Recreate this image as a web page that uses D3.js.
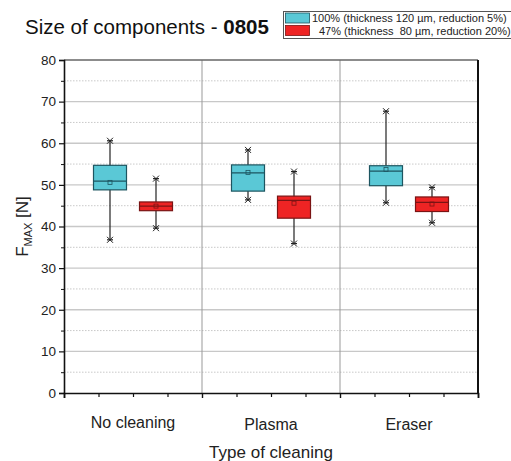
<!DOCTYPE html>
<html>
<head>
<meta charset="utf-8">
<script src="https://cdn.jsdelivr.net/npm/d3@7"></script>
<style>
  body { margin: 0; background: #fff; }
  svg { font-family: "Liberation Sans", Arial, sans-serif; }
</style>
</head>
<body>
<div id="chart"></div>
<script>
// categories and series
const categories = ['No cleaning', 'Plasma', 'Eraser']
const seriesNames = ['100% (thickness 120 µm, reduction 5%)', '47% (thickness\u00a0\u00a080 µm, reduction 20%)']
const seriesColors = ['#5ac8d6', '#ee2424']
const seriesStrokes = ['#1d5560', '#7a1414']

// box statistics per category, one array per series
const minA = [36.8, 46.4, 45.7]
const q1A = [48.8, 48.5, 49.8]
const medA = [50.9, 52.9, 53.3]
const q3A = [54.7, 54.8, 54.6]
const maxA = [60.6, 58.4, 67.7]
const meanA = [50.6, 53.0, 53.7]

const minB = [39.6, 35.9, 40.9]
const q1B = [43.8, 42.0, 43.6]
const medB = [44.9, 46.3, 45.8]
const q3B = [45.9, 47.3, 47.1]
const maxB = [51.5, 53.2, 49.4]
const meanB = [44.9, 45.6, 45.4]

const yTicks = [0, 10, 20, 30, 40, 50, 60, 70, 80]
const yMinor = [5, 15, 25, 35, 45, 55, 65, 75]

const width = 511, height = 461
const margin = { top: 60, right: 33, bottom: 68, left: 64 }

const stats = [
    { min: minA, q1: q1A, med: medA, q3: q3A, max: maxA, mean: meanA },
    { min: minB, q1: q1B, med: medB, q3: q3B, max: maxB, mean: meanB },
]

const boxes = []
stats.forEach((s, si) => {
    categories.forEach((c, ci) => {
        boxes.push({
            cat: c, series: si,
            min: s.min[ci], q1: s.q1[ci], med: s.med[ci], q3: s.q3[ci], max: s.max[ci], mean: s.mean[ci],
        })
    })
})

const svg = d3.select('#chart').append('svg')
    .attr('width', width)
    .attr('height', height)

const x = d3.scaleBand()
    .domain(categories)
    .range([margin.left, width - margin.right])
    .padding(0)

const xs = d3.scalePoint()
    .domain([0, 1])
    .range([0, x.bandwidth()])
    .padding(1)

const xl = d3.scaleLinear()
    .domain([0, categories.length])
    .range([margin.left, width - margin.right])

const y = d3.scaleLinear()
    .domain([0, 80])
    .range([height - margin.bottom, margin.top])

const plotL = margin.left, plotR = width - margin.right
const plotT = margin.top, plotB = height - margin.bottom

// grid
svg.append('g').selectAll('line.minor')
    .data(yMinor).enter().append('line')
    .attr('x1', plotL).attr('x2', plotR)
    .attr('y1', d => y(d)).attr('y2', d => y(d))
    .attr('stroke', '#bbb').attr('stroke-width', 0.8)
    .attr('stroke-dasharray', '1.5,1.5')

svg.append('g').selectAll('line.major')
    .data(yTicks.slice(1, -1)).enter().append('line')
    .attr('x1', plotL).attr('x2', plotR)
    .attr('y1', d => y(d)).attr('y2', d => y(d))
    .attr('stroke', '#c8c8c8').attr('stroke-width', 1.3)

// group separators
svg.append('g').selectAll('line')
    .data(d3.range(1, categories.length)).enter().append('line')
    .attr('x1', d => xl(d)).attr('x2', d => xl(d))
    .attr('y1', plotT).attr('y2', plotB)
    .attr('stroke', '#999').attr('stroke-width', 1)

// frame top and right
svg.append('line')
    .attr('x1', plotL).attr('x2', plotR).attr('y1', plotT).attr('y2', plotT)
    .attr('stroke', '#666').attr('stroke-width', 1.5)
svg.append('line')
    .attr('x1', plotR).attr('x2', plotR).attr('y1', plotT).attr('y2', plotB)
    .attr('stroke', '#111').attr('stroke-width', 2)

// boxes
const bw = 33
const g = svg.append('g').selectAll('g.box')
    .data(boxes).enter().append('g')
    .attr('transform', d => `translate(${x(d.cat) + xs(d.series)},0)`)

g.append('line')
    .attr('x1', 0).attr('x2', 0)
    .attr('y1', d => y(d.max)).attr('y2', d => y(d.min))
    .attr('stroke', '#222').attr('stroke-width', 1.2)

g.append('rect')
    .attr('x', -bw / 2).attr('width', bw)
    .attr('y', d => y(d.q3)).attr('height', d => y(d.q1) - y(d.q3))
    .attr('fill', d => seriesColors[d.series])
    .attr('stroke', d => seriesStrokes[d.series]).attr('stroke-width', 1.2)

g.append('line')
    .attr('x1', -bw / 2).attr('x2', bw / 2)
    .attr('y1', d => y(d.med)).attr('y2', d => y(d.med))
    .attr('stroke', d => seriesStrokes[d.series]).attr('stroke-width', 1.2)

g.append('rect')
    .attr('x', -2).attr('width', 4)
    .attr('y', d => y(d.mean) - 2).attr('height', 4)
    .attr('fill', 'none')
    .attr('stroke', d => seriesStrokes[d.series]).attr('stroke-width', 0.8)

// whisker caps and x markers
;['min', 'max'].forEach(k => {
    g.append('line')
        .attr('x1', -3).attr('x2', 3)
        .attr('y1', d => y(d[k])).attr('y2', d => y(d[k]))
        .attr('stroke', '#222').attr('stroke-width', 1.2)
    g.append('path')
        .attr('d', d => {
            const yy = y(d[k])
            return `M-3,${yy - 3}L3,${yy + 3}M-3,${yy + 3}L3,${yy - 3}`
        })
        .attr('stroke', '#222').attr('stroke-width', 1)
})

// y axis
const yAxis = svg.append('g')
    .attr('transform', `translate(${plotL},0)`)
    .call(d3.axisLeft(y).tickValues(yTicks).tickSize(5).tickPadding(3))
yAxis.select('.domain').attr('stroke', '#111').attr('stroke-width', 1.6)
yAxis.selectAll('.tick line').attr('stroke', '#111').attr('stroke-width', 1.2)
yAxis.selectAll('.tick text').attr('font-size', 13.5).attr('fill', '#222')
    .attr('font-family', '"Liberation Sans", Arial, sans-serif')

const yAxisMinor = svg.append('g')
    .attr('transform', `translate(${plotL},0)`)
    .call(d3.axisLeft(y).tickValues(yMinor).tickSize(3).tickFormat(''))
yAxisMinor.select('.domain').remove()
yAxisMinor.selectAll('.tick line').attr('stroke', '#111').attr('stroke-width', 1)

// x axis
const xAxis = svg.append('g')
    .attr('transform', `translate(0,${plotB})`)
    .call(d3.axisBottom(xl).tickValues(d3.range(0, categories.length + 1)).tickSize(5).tickFormat(''))
xAxis.select('.domain').attr('stroke', '#111').attr('stroke-width', 1.6)
xAxis.selectAll('.tick line').attr('stroke', '#111').attr('stroke-width', 1.4)

const xMinor = d3.range(0, categories.length * 4 + 1).map(i => i / 4).filter(v => v % 1 !== 0)
const xAxisMinor = svg.append('g')
    .attr('transform', `translate(0,${plotB})`)
    .call(d3.axisBottom(xl).tickValues(xMinor).tickSize(4).tickFormat(''))
xAxisMinor.select('.domain').remove()
xAxisMinor.selectAll('.tick line').attr('stroke', '#111').attr('stroke-width', 1.2)

// category labels
svg.append('g').selectAll('text')
    .data(categories).enter().append('text')
    .attr('x', d => x(d) + x.bandwidth() / 2)
    .attr('y', (d, i) => i === 0 ? 428 : 430)
    .attr('text-anchor', 'middle')
    .attr('font-size', 16).attr('fill', '#222')
    .text(d => d)

// axis titles
svg.append('text')
    .attr('x', (plotL + plotR) / 2).attr('y', 458)
    .attr('text-anchor', 'middle')
    .attr('font-size', 17).attr('fill', '#222')
    .text('Type of cleaning')

const yt = svg.append('text')
    .attr('transform', `translate(28,${(plotT + plotB) / 2}) rotate(-90)`)
    .attr('text-anchor', 'middle')
    .attr('font-size', 17).attr('fill', '#222')
yt.append('tspan').text('F')
yt.append('tspan').attr('font-size', 11).attr('dy', 4).text('MAX')
yt.append('tspan').attr('dy', -4).text(' [N]')

// title
const title = svg.append('text')
    .attr('x', 25).attr('y', 34)
    .attr('font-size', 20.5).attr('fill', '#111')
title.append('tspan').text('Size of components - ')
title.append('tspan').attr('font-weight', 'bold').text('0805')

// legend
const leg = svg.append('g')
leg.append('rect')
    .attr('x', 283.5).attr('y', 11.5).attr('width', 240).attr('height', 27)
    .attr('fill', '#fff').attr('stroke', '#555').attr('stroke-width', 1)
seriesNames.forEach((s, i) => {
    leg.append('rect')
        .attr('x', 285.5).attr('y', 13 + i * 12.5).attr('width', 24).attr('height', 10)
        .attr('fill', seriesColors[i]).attr('stroke', seriesStrokes[i]).attr('stroke-width', 0.8)
    leg.append('text')
        .attr('x', i === 0 ? 312 : 319).attr('y', 22 + i * 12.5)
        .attr('font-size', 11).attr('fill', '#222')
        .text(s)
})
</script>
</body>
</html>
